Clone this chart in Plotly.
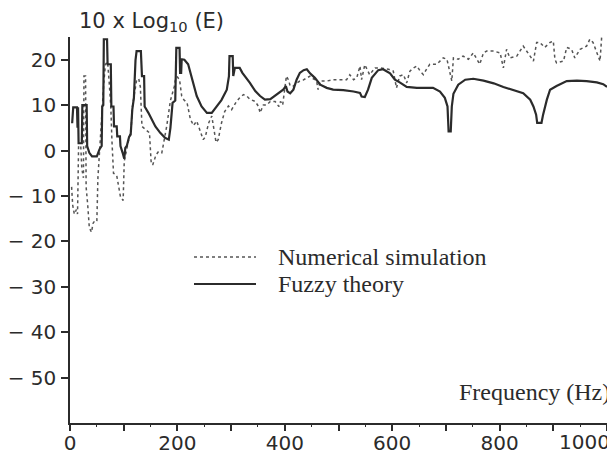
import plotly.graph_objects as go

# ---- data ----
fuzzy_freq = [4, 6, 13, 14, 15, 16, 22, 23, 31, 32, 36, 41, 50, 55, 59, 60, 62, 63, 69, 70, 76, 77, 81, 82, 87, 88, 93, 94, 98, 101,
              103, 106, 110, 113, 116, 119, 122, 124, 132, 134, 138, 139, 146, 152, 159, 168, 177, 184, 187, 191, 196, 198, 204, 205, 207,
              208, 213, 220, 226, 236, 245, 255, 264, 273, 282, 292, 296, 297, 303, 304, 307, 316, 321, 335, 345, 354, 363, 373, 385, 397,
              402, 405, 410, 416, 422, 428, 435, 441, 447, 456, 466, 478, 490, 509, 528, 540, 543, 549, 555, 562, 574, 583, 596, 605,
              614, 627, 646, 664, 676, 689, 698, 703, 705, 709, 711, 714, 723, 736, 751, 770, 789, 807, 825, 844, 857, 863, 868, 870,
              878, 881, 888, 894, 906, 925, 944, 962, 981, 993, 1000]
fuzzy_vals = [6, 9.5, 9.5, 5, 9.5, 1.6, 1.6, 10, 10, 1, -0.5, -1.3, -1.3, 0.3, 1, 9.7, 10, 24.5, 24.5, 19, 19, 9.7, 9.7, 5.3, 5.3, 3.1, 3.1, 1, -0.5, -1.8,
              0.6, 1.1, 3, 3.5, 9, 11.6, 19.9, 21.9, 21.9, 16.4, 16.4, 9.7, 8.3, 6.8, 5.3, 3.9, 2.8, 2.4, 5, 10.5, 11, 22.6, 22.6, 17.1, 17.1,
              20.1, 20, 19, 16.4, 12, 9.7, 8.3, 8.3, 9.7, 11.1, 13.4, 16.4, 20.8, 20.8, 16.4, 18.2, 18.2, 17.1, 14.9, 13.1, 12, 11.2, 11.3, 12.3, 13.4,
              14.2, 13, 12.6, 13.4, 15.6, 17.1, 17.7, 17.9, 17.0, 16, 14.5, 13.8, 13.4, 13.3, 13, 12.7, 11.9, 11.8, 13.4, 16, 17.7, 17.9, 17, 15.6,
              15, 14, 13.8, 13.9, 13.8, 13, 11.6, 9.7, 4.2, 4.2, 9.7, 12.5, 14.5, 15.6, 15.8, 15.4, 14.8, 14, 13.4, 12.6, 11.2, 9.7, 7.9, 6.1,
              6.1, 7.9, 11.2, 13.4, 14.2, 15.3, 15.4, 15.3, 15, 14.6, 14]

numeric_freq = [3, 5, 8, 12, 14, 16, 20, 22, 25, 26, 29, 30, 33, 36, 40, 43, 46, 50, 52, 55, 58, 60, 63, 66, 70, 73, 76, 78, 81, 87,
                90, 94, 99, 101, 106, 110, 114, 116, 119, 124, 128, 131, 134, 142, 148, 151, 154, 160, 165, 171, 176, 180, 187, 194, 197,
                200, 204, 208, 212, 218, 224, 230, 236, 242, 248, 252, 258, 264, 268, 272, 276, 282, 288, 295, 301, 310, 316, 323, 329, 335,
                345, 351, 354, 360, 366, 373, 382, 389, 392, 396, 403, 407, 410, 416, 422, 428, 434, 441, 447, 453, 459, 462, 466, 478, 490,
                503, 515, 521, 528, 534, 540, 543, 549, 558, 568, 577, 593, 602, 608, 614, 621, 627, 633, 640, 646, 652, 658, 664, 670, 683,
                695, 702, 709, 711, 714, 723, 732, 742, 751, 763, 770, 776, 789, 801, 807, 813, 819, 832, 844, 857, 863, 869, 875, 884, 894,
                900, 903, 906, 919, 925, 934, 940, 950, 962, 968, 974, 987, 990, 996, 1000]
numeric_vals = [-8, -12, -14, -13, -14, 1, 1, -4, -6, 16.4, 16.4, -8, -12, -17, -18, -16, -15.5, -15.6, -6, 0, 5, 9.7, 15, 19, 19.5, 15, 9.7, 2.4, -5, -5.5,
                -8, -10.2, -11, -2.4, 0.5, 3, 5, 9.5, 11.6, 15.5, 15.8, 14, 5.3, 4.5, 3.9, -2.4, -3.2, -1, -0.2, -0.5, 2.4, 5.3, 11, 14, 16,
                16.2, 15.6, 12, 11.2, 10.5, 7, 5.5, 6.5, 4.4, 2.4, 3, 6, 7.6, 5, 1.8, 2.4, 6, 8.6, 9.8, 9, 10.8, 11.6, 12.3, 12, 11.3,
                10.8, 9.7, 8.3, 10, 10, 10.8, 10.8, 9.7, 10.8, 10, 16.4, 15.5, 14.2, 14.2, 14.8, 15.3, 15.5, 16, 16.4, 15.8, 15.5, 13.4, 15.3, 15.3, 15.6,
                15.6, 15.6, 16.7, 15.6, 16, 18.6, 15.6, 18.9, 16.7, 18.2, 18.2, 17.9, 17.5, 13.8, 16.4, 16.7, 14.9, 17.5, 18.2, 18.6, 17.5, 16.7, 17.9, 19, 19,
                20.4, 20.1, 16, 15.3, 20.4, 20.1, 20.8, 20.1, 21.5, 19, 21.5, 21.9, 21.9, 21.5, 18.2, 22.3, 20.4, 20.8, 23, 20.8, 19.7, 23.8, 23.8, 22.7, 23.8,
                24.1, 20.1, 19.3, 19.7, 22.7, 22.3, 20.4, 22.3, 23, 24.5, 23.8, 19.7, 24.9, 26, 26]

y_ticks = [20, 10, 0, -10, -20, -30, -40, -50]
y_tick_labels = ["20", "10", "0", "\u2212 10", "\u2212 20", "\u2212 30", "\u2212 40", "\u2212 50"]
x_label_ticks = [0, 200, 400, 600, 800]
x_label_text = ["0", "200", "400", "600", "800"]
x_end_tick = 1000
x_end_label = "1000"
x_mid_ticks = [100, 300, 500, 700, 900, 1000]
x_minor = [50, 150, 250, 350, 450, 550, 650, 750, 850, 950]

legend_names = ["Numerical simulation", "Fuzzy theory"]

# ---- figure geometry (page body adds an 8px offset) ----
OFF = 8
W, H = 615 - OFF, 457 - OFF
L, R, T, B = 70 - OFF, 8, 37 - OFF, 34
pw, ph = W - L - R, H - T - B

ink = "#2b2b2b"
fig = go.Figure()
fig.add_trace(go.Scatter(x=numeric_freq, y=numeric_vals, mode="lines", name=legend_names[0],
                         line=dict(color="#555555", width=1.5, dash="dot")))
fig.add_trace(go.Scatter(x=fuzzy_freq, y=fuzzy_vals, mode="lines", name=legend_names[1],
                         line=dict(color=ink, width=2.2)))
# invisible trace on the overlay axis so the 50 Hz ticks render
fig.add_trace(go.Scatter(x=[0, 1000], y=[-60, -60], mode="lines", xaxis="x2",
                         line=dict(width=0), hoverinfo="skip", showlegend=False))

sans = "DejaVu Sans, Verdana, sans-serif"
serif = "Liberation Serif, Times New Roman, serif"


def px_x(x):  # reference-pixel x -> paper
    return (x - OFF - L) / pw


def px_y(y):  # reference-pixel y -> paper
    return (H - B - (y - OFF)) / ph


leg_rows = [(257, "dot", "#555555", 1.5), (284, "solid", ink, 2)]
for (yy, dash, col, wd), name in zip(leg_rows, legend_names):
    fig.add_shape(type="line", xref="paper", yref="paper",
                  x0=px_x(194), x1=px_x(256), y0=px_y(yy), y1=px_y(yy),
                  line=dict(color=col, width=wd, dash=dash))
    fig.add_annotation(xref="paper", yref="paper", x=px_x(276), y=px_y(yy),
                       xanchor="left", yanchor="middle", showarrow=False,
                       text=name, font=dict(family=serif, size=24, color=ink))

fig.add_annotation(xref="paper", yref="paper", x=px_x(612), y=px_y(392),
                   xanchor="right", yanchor="middle", showarrow=False,
                   text="Frequency (Hz)", font=dict(family=serif, size=24, color=ink))
fig.add_annotation(xref="paper", yref="paper", x=px_x(77), y=px_y(22),
                   xanchor="left", yanchor="middle", showarrow=False,
                   text="10 x Log<sub>10</sub> (E)", font=dict(family=sans, size=21, color=ink))
# last x tick label sits left of its tick (page edge), as in the original print
fig.add_annotation(xref="x", yref="paper", x=x_end_tick, y=px_y(442), xshift=5,
                   xanchor="right", yanchor="middle", showarrow=False,
                   text=x_end_label, font=dict(family=sans, size=20, color=ink))

fig.update_layout(
    width=W, height=H, autosize=False,
    margin=dict(l=L, r=R, t=T, b=B, pad=0, autoexpand=False),
    paper_bgcolor="white", plot_bgcolor="white",
    showlegend=False,
    xaxis=dict(range=[0, 1000], automargin=False, showgrid=False, zeroline=False, showline=True,
               linecolor=ink, linewidth=1.5, ticks="outside", ticklen=6, tickwidth=1.5,
               tickcolor=ink, tickmode="array", tickvals=x_label_ticks, ticktext=x_label_text,
               ticklabelstandoff=-5,
               tickfont=dict(family=sans, size=20, color=ink),
               minor=dict(tickvals=x_mid_ticks, ticks="outside", ticklen=6, tickwidth=1.5, tickcolor=ink)),
    xaxis2=dict(range=[0, 1000], automargin=False, overlaying="x", anchor="y", side="bottom", showgrid=False,
                zeroline=False, showline=False, showticklabels=False, ticks="outside",
                ticklen=3, tickwidth=1.2, tickcolor=ink, tickmode="array", tickvals=x_minor),
    yaxis=dict(range=[-60, 25], automargin=False, showgrid=False, zeroline=False, showline=True,
               linecolor=ink, linewidth=1.5, ticks="outside", ticklen=7, tickwidth=1.5,
               tickcolor=ink, tickmode="array", tickvals=y_ticks, ticktext=y_tick_labels,
               ticklabelstandoff=1,
               tickfont=dict(family=sans, size=20, color=ink)),
)

fig.write_html("out.html")
